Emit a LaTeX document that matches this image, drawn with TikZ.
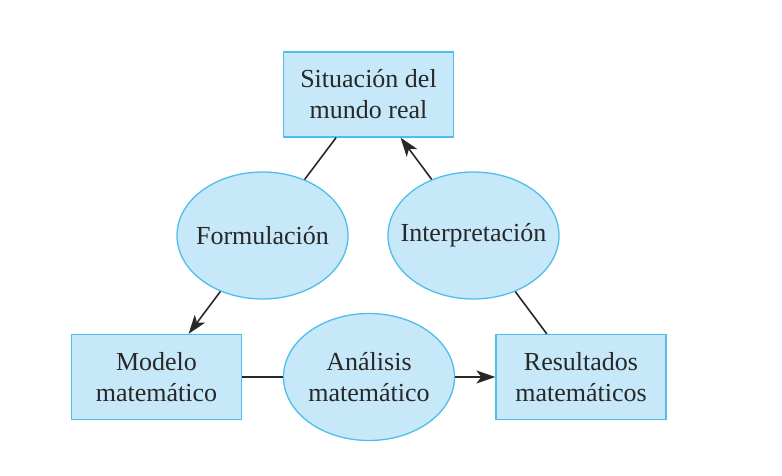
\documentclass[tikz,border=0pt]{standalone}
\usepackage{fontspec}
\setmainfont{Liberation Serif}
\usepackage{tikz}
\usepackage{xcolor}
\usetikzlibrary{
    arrows.meta,
    calc,
    shapes.geometric,
    positioning
}
\definecolor{cajafill}{RGB}{198,232,248}
\definecolor{cajaline}{RGB}{78,190,236}
\definecolor{tinta}{RGB}{40,40,40}
\tikzset{mmbox/.style={draw=cajaline, fill=cajafill, line width=1.3pt, minimum width=170pt, minimum height=85pt, inner sep=0pt, align=center, text=tinta, font=\fontsize{26}{31}\selectfont}}
\tikzset{mmell/.style={ellipse, draw=cajaline, fill=cajafill, line width=1.3pt, minimum width=171pt, minimum height=127pt, inner xsep=-25pt, inner ysep=0pt, align=center, text=tinta, font=\fontsize{26}{31}\selectfont}}
\tikzset{mmline/.style={draw=tinta, line width=1.6pt}}
\tikzset{mmtip/.style={-{Stealth[length=19pt, width=13pt, inset=5pt]}}}

\begin{document}
\begin{tikzpicture}[x=1pt, y=-1pt]
                        % pixel coordinates, y downwards
                        \useasboundingbox (0, 0) rectangle (782, 476);
                        \node[mmbox] (sit) at (368.5, 94.5) {Situación del\\mundo real};
                        \node[mmbox] (mod) at (156.5, 377) {Modelo\\matemático};
                        \node[mmbox] (res) at (581, 377) {Resultados\\matemáticos};
                        \node[mmell] (form) at (262.5, 235.5) {Formulación};
                        \node[mmell] (interp) at (473.5, 235.5) {Interpretación};
                        \node[mmell] (anal) at (369, 377) {Análisis\\matemático};

                        \coordinate (modin) at (intersection of sit--form and mod.north west--mod.north east);
                        \coordinate (resout) at (intersection of sit--interp and res.north west--res.north east);

                        \draw[mmline]
                        (sit) -- (form)
                        (resout) -- (interp)
                        (mod) -- (anal);
                        \draw[mmline, mmtip] (form) -- (modin);
                        \draw[mmline, mmtip] (interp) -- (sit);
                        \draw[mmline, mmtip] (anal) -- (res);
                    \end{tikzpicture}
\end{document}
